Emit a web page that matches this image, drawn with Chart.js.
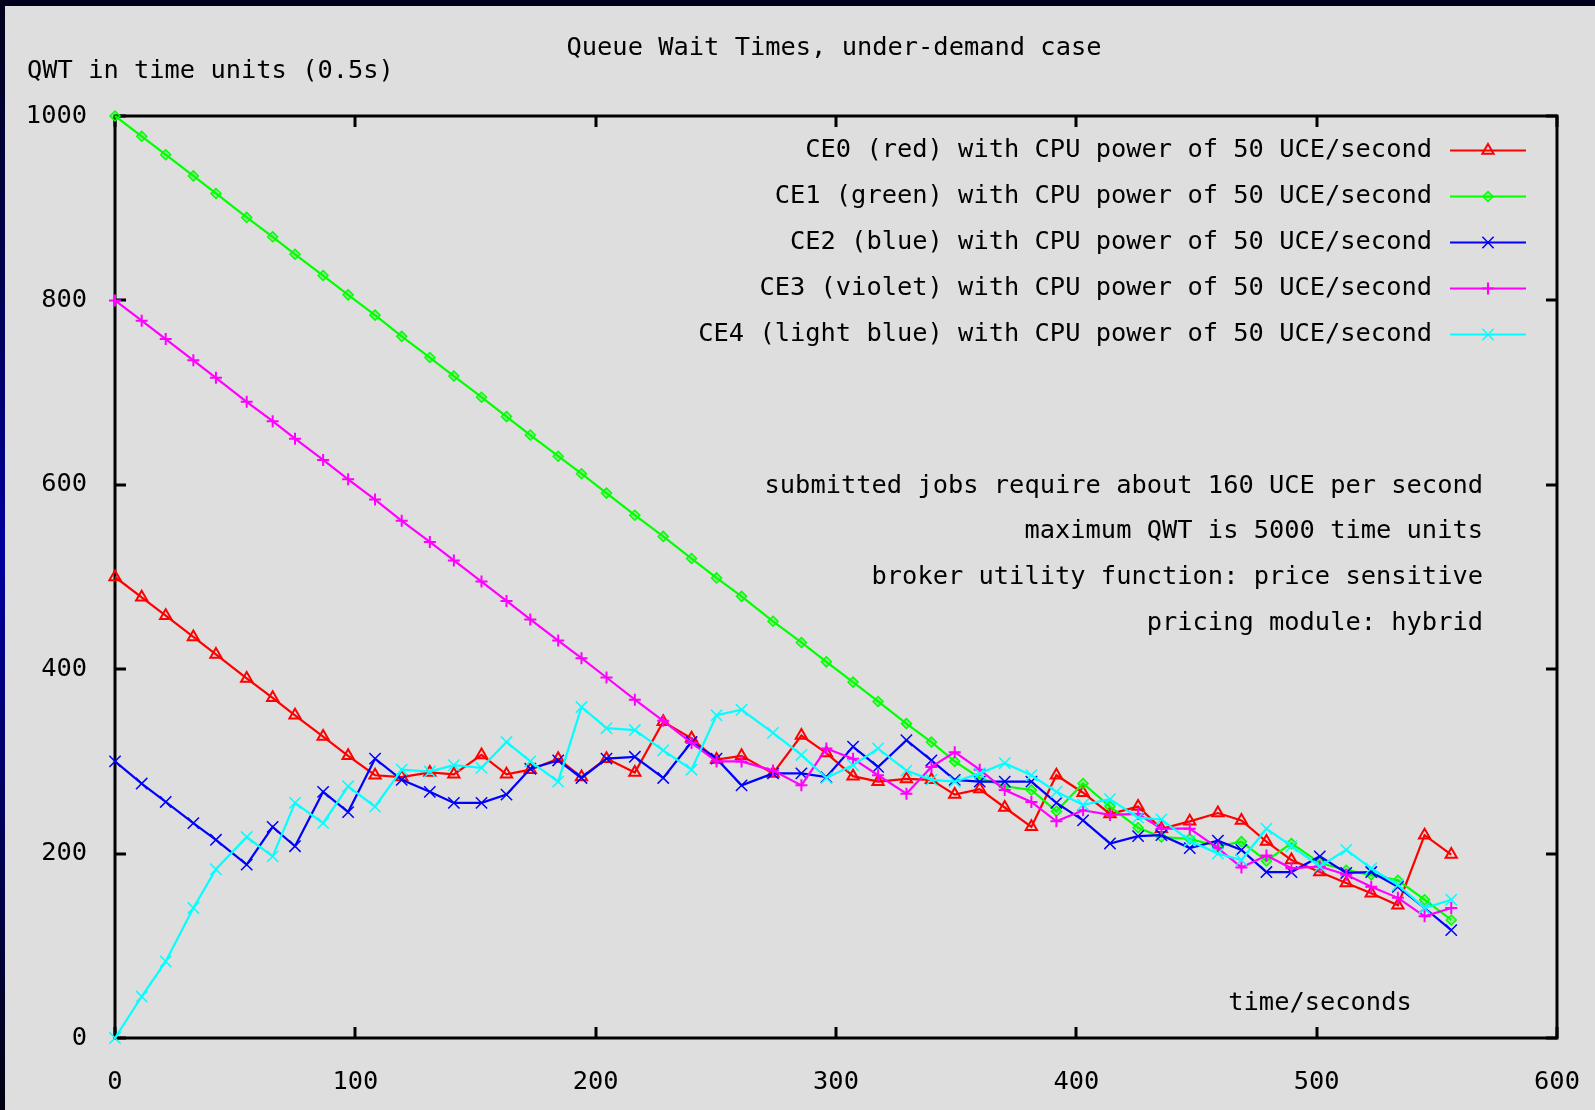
<!DOCTYPE html>
<html><head><meta charset="utf-8">
<script src="https://cdn.jsdelivr.net/npm/chart.js@4/dist/chart.umd.min.js"></script>
<style>
html,body{margin:0;padding:0;width:1595px;height:1110px;overflow:hidden;}
body{background:linear-gradient(to bottom,#00001c 0%,#000050 25%,#0000a0 50%,#000050 78%,#000010 100%);}
#wrap{position:absolute;left:5px;top:6px;width:1590px;height:1104px;background:#dedede;}
canvas{display:block;}
</style></head><body>
<div id="wrap"><canvas id="c" width="1590" height="1104"></canvas></div>
<script>
// ---- data ----
const times = [0, 11.1, 21.1, 32.6, 42.0, 54.8, 65.6, 74.9, 86.6, 97.0, 108.2, 119.3, 131.0, 141.0, 152.5, 162.9, 172.8, 184.4, 194.1, 204.5, 216.3, 228.1, 239.9, 250.3, 260.7, 273.8, 285.6, 296.0, 307.1, 317.5, 329.3, 339.7, 349.4, 359.8, 370.2, 381.3, 391.7, 402.8, 414.0, 425.7, 435.4, 447.2, 458.9, 468.7, 479.1, 489.5, 501.3, 512.3, 522.7, 533.8, 544.9, 556.0];
const ce0 = [500,478,458,435,416,390,369,350,327,306,285,283,288,286,307,286,291,303,283,303,288,343,325,302,306,287,328,309,284,278,281,280,264,270,250,229,285,266,243,251,227,235,244,236,213,193,180,168,157,144,220,199];
const ce1 = [1000,978,958,935,916,890,869,850,827,806,784,761,738,718,695,674,654,631,612,591,567,544,520,499,479,452,429,408,386,365,341,321,300,282,273,269,246,276,251,228,218,216,208,213,192,211,190,182,177,171,150,128];
const ce2 = [300,276,256,233,215,188,229,208,267,245,303,280,267,255,255,264,292,301,282,303,305,282,321,303,274,287,287,283,316,294,323,301,280,278,278,278,255,236,211,219,220,206,214,204,180,180,197,179,180,164,141,117];
const ce3 = [800,778,758,735,716,690,669,650,627,606,584,561,538,518,495,474,454,431,412,391,367,344,320,300,300,290,274,314,303,285,265,294,310,291,269,256,235,247,242,243,227,227,206,185,198,184,186,177,164,152,132,141];
const ce4 = [0,45,83,141,183,218,197,255,233,273,251,291,289,296,293,321,300,278,359,336,334,312,291,350,356,331,307,282,296,314,290,280,278,287,298,285,267,253,259,239,237,214,200,193,227,208,186,204,184,166,141,150];
const seriesLabels = [
  "CE0 (red) with CPU power of 50 UCE/second",
  "CE1 (green) with CPU power of 50 UCE/second",
  "CE2 (blue) with CPU power of 50 UCE/second",
  "CE3 (violet) with CPU power of 50 UCE/second",
  "CE4 (light blue) with CPU power of 50 UCE/second"
];
const xTicks = [0,100,200,300,400,500,600];
const yTicks = [0,200,400,600,800,1000];
const chartTitle = "Queue Wait Times, under-demand case";
const yTitle = "QWT in time units (0.5s)";
const xTitle = "time/seconds";
const notes = [
  "submitted jobs require about 160 UCE per second",
  "maximum QWT is 5000 time units",
  "broker utility function: price sensitive",
  "pricing module: hybrid"
];

// ---- styles ----
const FONT = "'DejaVu Sans Mono', 'Liberation Mono', monospace";
const FS = 25.4;
const colors = ['#ff0000','#00ff00','#0000ff','#ff00ff','#00ffff'];
const styles = [
  {pointStyle:'triangle', radius:6.5, bg:'rgba(0,0,0,0)', bw:2},
  {pointStyle:'rectRot', radius:5, bg:'rgba(0,255,0,0.35)', bw:1.5},
  {pointStyle:'crossRot', radius:8, bg:'rgba(0,0,0,0)', bw:1.5},
  {pointStyle:'cross', radius:6, bg:'rgba(0,0,0,0)', bw:2},
  {pointStyle:'crossRot', radius:8, bg:'rgba(0,0,0,0)', bw:1.5}
];
const all = [ce0, ce1, ce2, ce3, ce4];

const datasets = all.map((vals, k) => ({
  label: seriesLabels[k],
  data: times.map((t, i) => ({x: t, y: vals[i]})),
  borderColor: colors[k],
  backgroundColor: styles[k].bg,
  borderWidth: 2.2,
  pointStyle: styles[k].pointStyle,
  pointRadius: styles[k].radius,
  pointBorderWidth: styles[k].bw,
  pointBorderColor: colors[k],
  pointBackgroundColor: styles[k].bg,
  tension: 0,
  clip: false,
  order: 5 - k
}));

const decor = {
  id: 'decor',
  beforeDatasetsDraw(chart) {
    const ctx = chart.ctx, a = chart.chartArea;
    const xs = chart.scales.x, ys = chart.scales.y;
    ctx.save();
    // frame
    ctx.strokeStyle = '#000';
    ctx.lineWidth = 3;
    ctx.strokeRect(a.left, a.top, a.right - a.left, a.bottom - a.top);
    // inward ticks
    ctx.lineWidth = 3;
    ctx.beginPath();
    xTicks.forEach(v => {
      const px = Math.round(xs.getPixelForValue(v));
      ctx.moveTo(px, a.bottom); ctx.lineTo(px, a.bottom - 11);
      ctx.moveTo(px, a.top); ctx.lineTo(px, a.top + 11);
    });
    yTicks.forEach(v => {
      const py = Math.round(ys.getPixelForValue(v));
      ctx.moveTo(a.left, py); ctx.lineTo(a.left + 11, py);
      ctx.moveTo(a.right, py); ctx.lineTo(a.right - 11, py);
    });
    ctx.stroke();
    // texts
    ctx.fillStyle = '#000';
    ctx.font = FS + 'px ' + FONT;
    ctx.textBaseline = 'middle';
    ctx.textAlign = 'center';
    ctx.fillText(chartTitle, (a.left + a.right) / 2 - 2, 42);
    ctx.textAlign = 'left';
    ctx.fillText(yTitle, 22, 65);
    ctx.textAlign = 'center';
    ctx.fillText(xTitle, 1315, 997);
    ctx.textAlign = 'right';
    notes.forEach((n, i) => ctx.fillText(n, 1478, 480 + i * 45.8));
    // legend
    chart.data.datasets.forEach((ds, i) => {
      const y = 144.5 + i * 46;
      ctx.fillStyle = '#000';
      ctx.textAlign = 'right';
      ctx.fillText(ds.label, 1427, y);
      ctx.strokeStyle = ds.borderColor;
      ctx.lineWidth = 2;
      ctx.beginPath();
      ctx.moveTo(1445, y); ctx.lineTo(1521, y);
      ctx.stroke();
      ctx.fillStyle = ds.pointBackgroundColor;
      ctx.lineWidth = ds.pointBorderWidth;
      Chart.helpers.drawPoint(ctx, {pointStyle: ds.pointStyle, radius: ds.pointRadius, rotation: 0, borderWidth: ds.pointBorderWidth}, 1483, y);
    });
    ctx.restore();
  }
};

new Chart(document.getElementById('c'), {
  type: 'line',
  data: {datasets},
  options: {
    responsive: false,
    animation: false,
    devicePixelRatio: 1,
    events: [],
    layout: {padding: {top: 110, right: 38, bottom: 0, left: 0}},
    plugins: {legend: {display: false}, title: {display: false}, tooltip: {enabled: false}},
    scales: {
      x: {
        type: 'linear', min: 0, max: 600,
        grid: {display: false}, border: {display: false},
        afterBuildTicks: s => { s.ticks = xTicks.map(v => ({value: v})); },
        afterFit: s => { s.height = 72; s.paddingLeft = 0; s.paddingRight = 0; },
        ticks: {color: '#000', font: {family: FONT, size: FS}, padding: 21, maxRotation: 0, autoSkip: false,
                callback: v => String(v)}
      },
      y: {
        type: 'linear', min: 0, max: 1000,
        grid: {display: false}, border: {display: false},
        afterBuildTicks: s => { s.ticks = yTicks.map(v => ({value: v})); },
        afterFit: s => { s.width = 110; s.paddingTop = 0; s.paddingBottom = 0; },
        ticks: {color: '#000', font: {family: FONT, size: FS}, padding: 20,
                callback: v => String(v)}
      }
    }
  },
  plugins: [decor]
});
</script>
</body></html>
